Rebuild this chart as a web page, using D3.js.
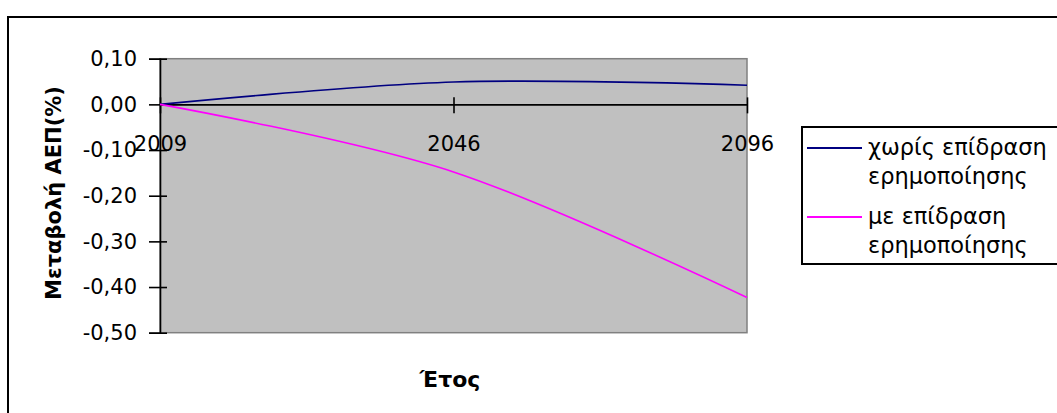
<!DOCTYPE html>
<html><head><meta charset="utf-8">
<script src="https://cdn.jsdelivr.net/npm/d3@7"></script>
<style>
body{margin:0;background:#fff;}
svg{display:block;font-family:"DejaVu Sans",sans-serif;}
</style></head>
<body><svg id="c" width="1057" height="413"></svg>
<script>
const years = ["2009","2046","2096"];
const withoutEffect = [0, 0.049, 0.042];
const withEffect = [0, -0.148, -0.423];
const yTicks = [0.10, 0.00, -0.10, -0.20, -0.30, -0.40, -0.50];
const seriesNames = ["χωρίς επίδραση|ερημοποίησης", "με επίδραση|ερημοποίησης"];
const seriesColors = ["#000080", "#ff00ff"];
const yTitle = "Μεταβολή ΑΕΠ(%)";
const xTitle = "Έτος";

const svg = d3.select("#c");
// outer frame
svg.append("rect").attr("x",8).attr("y",17).attr("width",1200).attr("height",600)
  .attr("fill","#fff").attr("stroke","#000").attr("stroke-width",2);

const L=160, R=747, T=58.7, B=332.7;
const x = d3.scalePoint().domain(years).range([L,R]).padding(0);
const y = d3.scaleLinear().domain([-0.5,0.1]).range([B,T]);

svg.append("rect").attr("x",L).attr("y",T).attr("width",R-L).attr("height",B-T)
  .attr("fill","#c0c0c0").attr("stroke","#808080").attr("stroke-width",1.5);

const fmt = v => d3.format(".2f")(v).replace(".",",").replace("−","-");

// y axis
const ya = svg.append("g").attr("transform",`translate(${L},0)`)
  .call(d3.axisLeft(y).tickValues(yTicks).tickSize(11).tickPadding(12).tickFormat(fmt));
ya.select(".domain").attr("stroke","#000").attr("stroke-width",1.6);
ya.selectAll(".tick line").attr("x1",7).attr("x2",-11).attr("stroke","#000").attr("stroke-width",1.6);
ya.selectAll(".tick text").attr("font-size",21).attr("fill","#000").attr("font-family","DejaVu Sans");

// x axis at zero
const xa = svg.append("g").attr("transform",`translate(0,${y(0)})`)
  .call(d3.axisBottom(x).tickSize(9).tickSizeOuter(0));
xa.select(".domain").attr("stroke","#000").attr("stroke-width",1.6);
xa.selectAll(".tick line").attr("y1",-7).attr("y2",9).attr("stroke","#000").attr("stroke-width",1.6);
xa.selectAll(".tick text").attr("y",47).attr("dy",0).attr("font-size",21).attr("fill","#000").attr("font-family","DejaVu Sans");

// lines
const line = d3.line().x((d,i)=>x(years[i])).y(d=>y(d)).curve(d3.curveCardinal.tension(0));
[withoutEffect, withEffect].forEach((s,i)=>{
  svg.append("path").attr("d",line(s)).attr("fill","none")
    .attr("stroke",seriesColors[i]).attr("stroke-width",1.6);
});

// titles
svg.append("text").attr("transform","translate(61,193) rotate(-90)")
  .attr("text-anchor","middle").attr("font-weight","bold").attr("font-size",21)
  .text(yTitle);
svg.append("text").attr("x",450).attr("y",387).attr("text-anchor","middle")
  .attr("font-weight","bold").attr("font-size",22).text(xTitle);

// legend
const lg = svg.append("g");
lg.append("rect").attr("x",802).attr("y",127).attr("width",400).attr("height",137)
  .attr("fill","#fff").attr("stroke","#000").attr("stroke-width",2);
const legY = [148, 217];
seriesNames.forEach((n,i)=>{
  lg.append("line").attr("x1",807).attr("x2",862).attr("y1",legY[i]).attr("y2",legY[i])
    .attr("stroke",seriesColors[i]).attr("stroke-width",2);
  const parts = n.split("|");
  parts.forEach((p,j)=>{
    lg.append("text").attr("x",868).attr("y",legY[i]+7+j*29).attr("font-size",22.5).text(p);
  });
});
</script></body></html>
